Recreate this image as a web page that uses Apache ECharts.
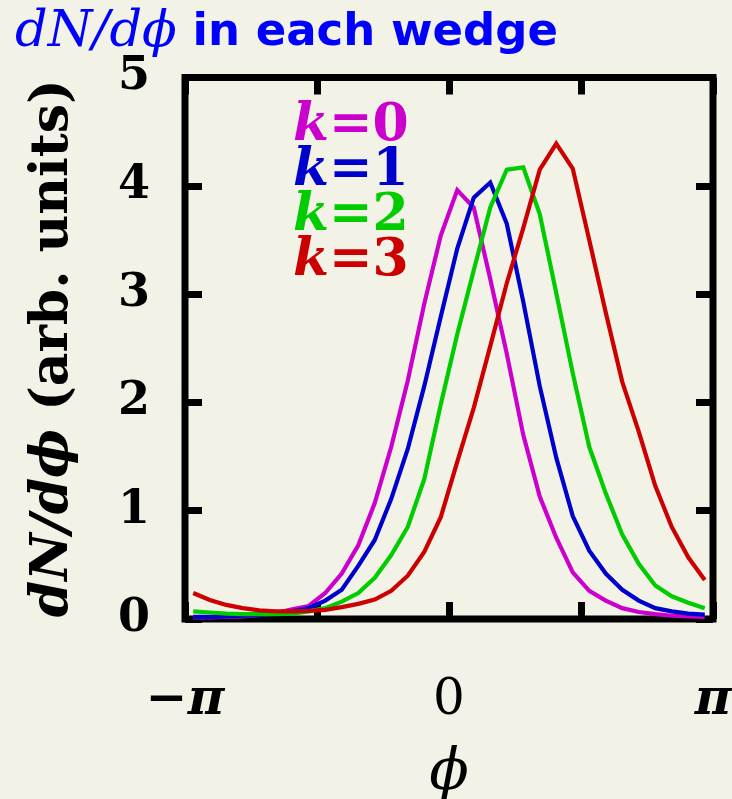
<!DOCTYPE html>
<html>
<head>
<meta charset="utf-8">
<title>dN/dϕ in each wedge</title>
<script src="https://cdn.jsdelivr.net/npm/echarts@6/dist/echarts.min.js"></script>
<style>
  html, body { margin: 0; padding: 0; background: #f2f2e6; }
  #chart { width: 732px; height: 799px; }
</style>
</head>
<body>
<div id="chart"></div>
<script>
// Azimuthal distributions dN/dϕ, 32 bins over [−π, π], one curve per wedge k.
const binCount = 32;
const wedgeLabels = ['k=0', 'k=1', 'k=2', 'k=3'];
const wedgeColors = ['#cc00cc', '#0000cc', '#00cc00', '#cc0000'];

const dndphiK0 = [0.015, 0.015, 0.02, 0.025, 0.035, 0.055, 0.09, 0.12, 0.24, 0.42, 0.68, 1.07,
                  1.59, 2.20, 2.91, 3.54, 3.96, 3.80, 3.14, 2.45, 1.70, 1.13, 0.75, 0.43,
                  0.26, 0.17, 0.10, 0.065, 0.045, 0.03, 0.025, 0.02];
const dndphiK1 = [0.02, 0.02, 0.025, 0.03, 0.035, 0.05, 0.07, 0.10, 0.17, 0.27, 0.49, 0.73,
                  1.11, 1.57, 2.15, 2.79, 3.42, 3.89, 4.03, 3.65, 2.93, 2.15, 1.49, 0.95,
                  0.63, 0.42, 0.27, 0.17, 0.10, 0.07, 0.05, 0.04];
const dndphiK2 = [0.07, 0.06, 0.05, 0.045, 0.045, 0.045, 0.05, 0.07, 0.10, 0.16, 0.24, 0.38,
                  0.59, 0.85, 1.29, 1.98, 2.63, 3.22, 3.80, 4.15, 4.17, 3.74, 3.01, 2.27,
                  1.59, 1.16, 0.78, 0.51, 0.31, 0.21, 0.15, 0.10];
const dndphiK3 = [0.24, 0.175, 0.13, 0.10, 0.08, 0.07, 0.07, 0.075, 0.085, 0.11, 0.14, 0.18,
                  0.26, 0.40, 0.62, 0.94, 1.45, 1.95, 2.52, 3.10, 3.61, 4.15, 4.39, 4.16,
                  3.50, 2.83, 2.19, 1.73, 1.23, 0.85, 0.57, 0.36];
const wedgeValues = [dndphiK0, dndphiK1, dndphiK2, dndphiK3];

// x tick labels at −π, 0, π (ticks every π/2)
const xTickValues = [-Math.PI, 0, Math.PI];
const xTickTexts = ['{m|−}{b|π}', '{n|0}', '{b|π}'];
const yTickTexts = ['0', '1', '2', '3', '4', '5'];

const binWidth = 2 * Math.PI / binCount;
const binCenters = Array.from({ length: binCount }, (_, i) => -Math.PI + (i + 0.5) * binWidth);

const SERIF = '"DejaVu Serif", "Liberation Serif", serif';
const BG = '#f2f2e6';

const frameTick = {
  show: true, inside: true, length: 17,
  lineStyle: { color: '#000', width: 7, cap: 'butt' }
};
const hiddenLine = { show: false, onZero: false };

const chart = echarts.init(document.getElementById('chart'), null, { renderer: 'canvas' });

const option = {
  backgroundColor: BG,
  animation: false,
  grid: {
    left: 185, top: 77.5, width: 528, height: 541.5,
    show: true, borderColor: '#000', borderWidth: 7, backgroundColor: 'transparent',
    containLabel: false, outerBoundsMode: 'none'
  },
  xAxis: [
    {
      type: 'value', position: 'bottom',
      min: -Math.PI, max: Math.PI, interval: Math.PI / 2,
      axisLine: hiddenLine, splitLine: { show: false },
      axisTick: frameTick,
      axisLabel: {
        margin: 57,
        showMinLabel: true, showMaxLabel: true,
        formatter: function (v) {
          for (let i = 0; i < xTickValues.length; i++) {
            if (Math.abs(v - xTickValues[i]) < 1e-6) return xTickTexts[i];
          }
          return '';
        },
        rich: {
          m: { fontFamily: SERIF, fontWeight: 'bold', fontSize: 50, color: '#000' },
          b: { fontFamily: SERIF, fontStyle: 'italic', fontWeight: 'bold', fontSize: 50, color: '#000' },
          n: { fontFamily: SERIF, fontWeight: 'normal', fontSize: 50, color: '#000' }
        }
      },
      name: 'ϕ', nameLocation: 'middle', nameGap: 126,
      nameTextStyle: { fontFamily: SERIF, fontStyle: 'italic', fontSize: 58, color: '#000' }
    },
    {
      type: 'value', position: 'top',
      min: -Math.PI, max: Math.PI, interval: Math.PI / 2,
      axisLine: hiddenLine, splitLine: { show: false },
      axisTick: frameTick, axisLabel: { show: false }
    }
  ],
  yAxis: [
    {
      type: 'value', position: 'left',
      min: 0, max: 5, interval: 1,
      axisLine: hiddenLine, splitLine: { show: false },
      axisTick: frameTick,
      axisLabel: {
        margin: 35,
        formatter: function (v) { return yTickTexts[Math.round(v)]; },
        fontFamily: SERIF, fontWeight: 'bold', fontSize: 46, color: '#000'
      },
      name: '{i|dN/dϕ}{r| (arb. units)}',
      nameLocation: 'middle', nameRotate: 90, nameGap: 106,
      nameTextStyle: {
        rich: {
          i: { fontFamily: SERIF, fontStyle: 'italic', fontWeight: 'bold', fontSize: 52, color: '#000' },
          r: { fontFamily: SERIF, fontWeight: 'bold', fontSize: 52, color: '#000' }
        }
      }
    },
    {
      type: 'value', position: 'right',
      min: 0, max: 5, interval: 1,
      axisLine: hiddenLine, splitLine: { show: false },
      axisTick: frameTick, axisLabel: { show: false }
    }
  ],
  series: wedgeValues.map((vals, k) => ({
    name: wedgeLabels[k],
    type: 'line',
    xAxisIndex: 0, yAxisIndex: 0,
    showSymbol: false,
    data: binCenters.map((x, i) => [x, vals[i]]),
    lineStyle: { color: wedgeColors[k], width: 4.2, join: 'miter' },
    itemStyle: { color: wedgeColors[k] },
    z: 3 + k
  })),
  graphic: [
    {
      type: 'text', x: 15, y: 33,
      style: {
        text: '{m|dN/dϕ}{s| in each wedge}',
        verticalAlign: 'middle',
        rich: {
          m: { font: 'italic 51px "DejaVu Serif"', fill: '#0000ff' },
          s: { font: 'bold 45px "DejaVu Sans"', fill: '#0000ff' }
        }
      }
    }
  ].concat(wedgeLabels.map((lab, k) => ({
    type: 'text', x: 293, y: 126 + k * 45.3, z: 10,
    style: {
      text: '{k|k}{r|' + lab.slice(1) + '}',
      verticalAlign: 'middle',
      rich: {
        k: { font: 'italic bold 52px "DejaVu Serif"', fill: wedgeColors[k] },
        r: { font: 'bold 52px "DejaVu Serif"', fill: wedgeColors[k] }
      }
    }
  })))
};

chart.setOption(option);
</script>
</body>
</html>
